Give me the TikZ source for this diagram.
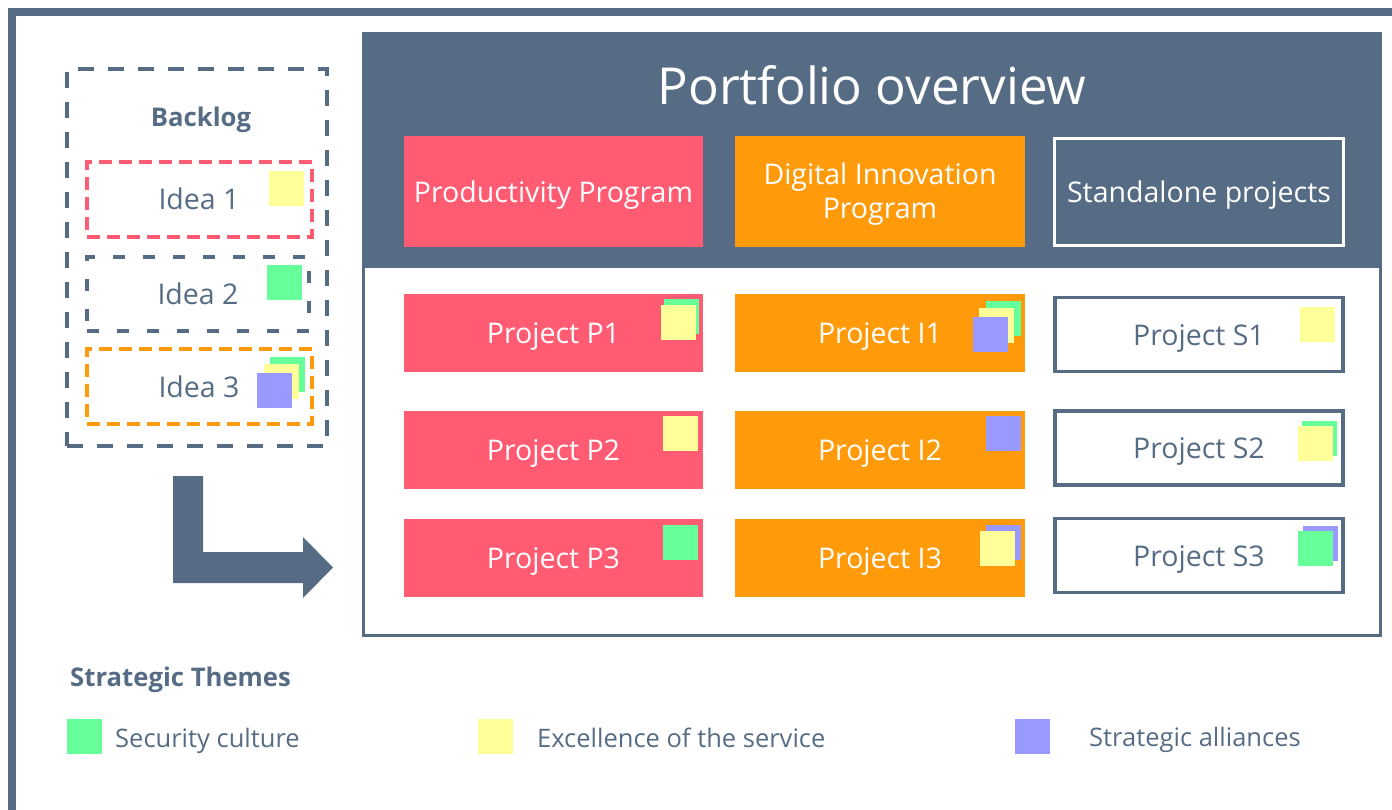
\documentclass[tikz,border=0pt]{standalone}
\usepackage{fontspec}
\setmainfont{Open Sans}
\definecolor{slate}{HTML}{566C84}
\definecolor{progred}{HTML}{FF5B73}
\definecolor{progorange}{HTML}{FF9B0B}
\definecolor{themeG}{HTML}{66FF99}
\definecolor{themeY}{HTML}{FFFF99}
\definecolor{themeB}{HTML}{9999FF}
\tikzset{
  % single-line labels get the same box whether or not they have descenders
  evenline/.style={text height=#1, text depth=0pt},
  sticky/.style={fill=#1, draw=none, minimum size=35pt, inner sep=0pt},
  headbox/.style={fill=#1, draw=none, minimum width=299pt, minimum height=111pt,
    text=white, font=\fontsize{28.5}{34}\selectfont, evenline=21.5pt, inner sep=0pt},
  projbox/.style={fill=#1, draw=none, minimum width=299pt, minimum height=78pt,
    text=white, font=\fontsize{28.5}{34}\selectfont, evenline=21.5pt, inner sep=0pt},
  sbox/.style={fill=white, draw=slate, line width=3.5pt, minimum width=288pt,
    minimum height=74pt, text=slate, font=\fontsize{28.5}{34}\selectfont, evenline=21.5pt, inner sep=0pt},
  ideabox/.style={draw=#1, line width=3.5pt, dash pattern=on 13pt off 7pt,
    minimum width=225pt, minimum height=75pt, inner sep=0pt},
  ideatext/.style={text=slate, font=\fontsize{28.5}{34}\selectfont, evenline=21.5pt, inner sep=0pt},
  legendtext/.style={anchor=west, text=slate, font=\fontsize{25.5}{30}\selectfont, evenline=19.2pt, inner sep=0pt},
  boldtext/.style={text=slate, font=\fontsize{25.7}{30}\selectfont\bfseries, evenline=19.4pt, inner sep=0pt},
}
\begin{document}
\begin{tikzpicture}[x=1pt, y=-1pt]
\useasboundingbox (0,0) rectangle (1392,809);

% outer frame
\draw[slate, line width=8pt] (12,830) -- (12,12) -- (1420,12);

% portfolio panel
\fill[slate] (362,32) rectangle (1382,268);
\draw[slate, line width=3pt] (363.5,268) -- (363.5,635) -- (1380.5,635) -- (1380.5,268);
\node[text=white, font=\fontsize{51}{60}\selectfont, evenline=38.5pt, inner sep=0pt] (title) at (872,85) {Portfolio overview};

% programme headers
\node[headbox=progred] (hp) at (553.5,191.5) {Productivity Program};
\node[headbox=progorange, minimum width=290pt] (hi) at (880,191.5) {};
\node[text=white, font=\fontsize{28.5}{34}\selectfont, align=center, inner sep=0pt] (hitext) at (880,194) {Digital Innovation\\Program};
\node[fill=slate, draw=white, line width=3.5pt, minimum width=289pt, minimum height=107pt,
  text=white, font=\fontsize{28.5}{34}\selectfont, evenline=21.5pt, inner sep=0pt] (hs) at (1199,192) {Standalone projects};

% projects
\node[projbox=progred] (p1) at (553.5,333) {Project P1};
\node[projbox=progred] (p2) at (553.5,450) {Project P2};
\node[projbox=progred] (p3) at (553.5,558) {Project P3};
\node[projbox=progorange, minimum width=290pt] (i1) at (880,333) {Project I1};
\node[projbox=progorange, minimum width=290pt] (i2) at (880,450) {Project I2};
\node[projbox=progorange, minimum width=290pt] (i3) at (880,558) {Project I3};
\node[sbox] (s1) at (1199,334.5) {Project S1};
\node[sbox] (s2) at (1199,448) {Project S2};
\node[sbox] (s3) at (1199,555.5) {Project S3};

% theme stickies on projects
\node[sticky=themeG] (p1g) at (681.5,316) {};
\node[sticky=themeY] (p1y) at (678.5,322) {};
\node[sticky=themeG] (i1g) at (1003.5,318) {};
\node[sticky=themeY] (i1y) at (996.5,325) {};
\node[sticky=themeB] (i1b) at (990.5,334) {};
\node[sticky=themeY] (s1y) at (1317.5,324.5) {};
\node[sticky=themeY] (p2y) at (680.5,433.5) {};
\node[sticky=themeB] (i2b) at (1003.5,433.5) {};
\node[sticky=themeG] (s2g) at (1319.5,438) {};
\node[sticky=themeY] (s2y) at (1315.5,443) {};
\node[sticky=themeG] (p3g) at (680.5,542.5) {};
\node[sticky=themeB] (i3b) at (1003.5,542) {};
\node[sticky=themeY] (i3y) at (997.5,548) {};
\node[sticky=themeB] (s3b) at (1320.5,543) {};
\node[sticky=themeG] (s3g) at (1315.5,548) {};

% backlog
\node[draw=slate, line width=4pt, dash pattern=on 16pt off 14pt,
  minimum width=260pt, minimum height=377pt, inner sep=0pt] (backlog) at (197,257.5) {};
\node[boldtext] (backlogtitle) at (201,117) {Backlog};
\node[ideabox=progred] (idea1) at (199.5,199.5) {};
\node[ideatext] (idea1t) at (199,199) {Idea 1};
\node[ideabox=slate, dash pattern=on 12pt off 18pt, minimum width=222pt, minimum height=74pt] (idea2) at (198,294) {};
\node[ideatext] (idea2t) at (198,294) {Idea 2};
\node[ideabox=progorange] (idea3) at (199.5,386.5) {};
\node[ideatext] (idea3t) at (199,387) {Idea 3};
\node[sticky=themeY] (idea1y) at (286.5,188.5) {};
\node[sticky=themeG] (idea2g) at (284.5,282) {};
\node[sticky=themeG] (idea3g) at (287.5,374) {};
\node[sticky=themeY] (idea3y) at (281.5,381) {};
\node[sticky=themeB] (idea3b) at (274.5,390) {};

% bent arrow from the backlog into the portfolio
\fill[slate] (173,476) -- (203,476) -- (203,552) -- (303,552) -- (303,537)
  -- (333,567.5) -- (303,598) -- (303,583) -- (173,583) -- cycle;

% legend
\node[boldtext, anchor=west] (legend) at (70,677) {Strategic Themes};
\node[sticky=themeG] (lg) at (84.5,736.5) {};
\node[legendtext] (lgt) at (115,738) {Security culture};
\node[sticky=themeY] (ly) at (495.5,736.5) {};
\node[legendtext] (lyt) at (537,738) {Excellence of the service};
\node[sticky=themeB] (lb) at (1032.5,736.5) {};
\node[legendtext] (lbt) at (1089,737) {Strategic alliances};
\end{tikzpicture}
\end{document}
